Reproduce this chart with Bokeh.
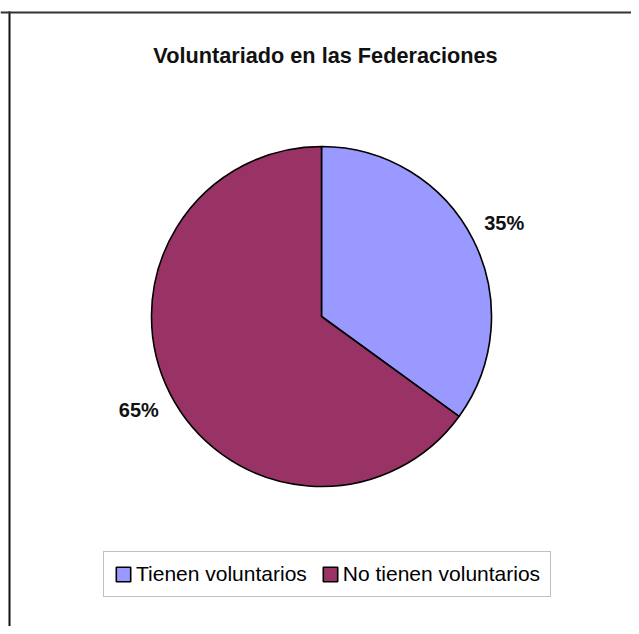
import math
from bokeh.plotting import figure
from bokeh.models import Range1d, BoxAnnotation, Span, Label, Legend, LegendItem, ColumnDataSource
from bokeh.core.properties import value
from bokeh.embed import file_html
from bokeh.resources import INLINE

# ---- data ----
title_text = "Voluntariado en las Federaciones"
categories = ["Tienen voluntarios", "No tienen voluntarios"]
values = [35, 65]
colors = ["#9999FF", "#993366"]
label_texts = ["35%", "65%"]

W, H = 631, 626
FONT = "Liberation Sans"

p = figure(width=W, height=H, output_backend="svg", toolbar_location=None,
           x_range=Range1d(0, W), y_range=Range1d(0, H),
           x_axis_location=None, y_axis_location=None,
           min_border=0, outline_line_color=None, background_fill_color="white",
           border_fill_color="white")
p.grid.visible = False

# picture coords (top-left origin) -> data coords
def dx(px):
    return px
def dy(py):
    return H - py

cx, cy, r = dx(321), dy(316), 170

total = float(sum(values))
starts, ends, mids = [], [], []
acc = 0.0
for v in values:
    a0 = math.pi / 2 - 2 * math.pi * acc / total
    acc += v
    a1 = math.pi / 2 - 2 * math.pi * acc / total
    starts.append(a0)
    ends.append(a1)
    mids.append((a0 + a1) / 2)

# chart border (only top and left edges fall inside the picture)
p.add_layout(BoxAnnotation(left=dx(8), right=dx(10), top=dy(11), bottom=-50,
                           fill_color="#111111", fill_alpha=1.0,
                           line_color=None))
p.add_layout(Span(location=dy(12), dimension="width", line_color="#333333", line_width=2))

src = ColumnDataSource(dict(start=starts, end=ends, color=colors, cat=categories))
wr = p.wedge(x=cx, y=cy, radius=r, start_angle="start", end_angle="end",
             direction="clock", fill_color="color", line_color="black",
             line_width=1.6, source=src)

# percentage labels
lr = 205
lsrc = ColumnDataSource(dict(
    x=[cx + lr * math.cos(m) for m in mids],
    y=[cy + lr * math.sin(m) for m in mids],
    t=label_texts))
p.text(x="x", y="y", text="t", source=lsrc, text_align="center",
       text_baseline="middle", text_font=value(FONT), text_font_size="20px",
       text_font_style="bold", text_color="#111111")

# title
p.add_layout(Label(x=325, y=dy(55), text=title_text, text_align="center",
                   text_baseline="alphabetic", text_font=FONT,
                   text_font_size="21.7px", text_font_style="bold",
                   text_color="#111111"))

legend = Legend(items=[LegendItem(label=categories[i], renderers=[wr], index=i)
                       for i in range(len(categories))],
                orientation="horizontal", location=(103, H - 597),
                margin=0, padding=10, spacing=14, label_standoff=4,
                glyph_width=18, glyph_height=18,
                label_text_font=FONT, label_text_font_size="21px",
                label_text_color="black",
                border_line_color="#808080", border_line_width=1,
                background_fill_color="white", background_fill_alpha=1.0)
p.add_layout(legend)

open("out.html", "w").write(file_html(p, INLINE))
